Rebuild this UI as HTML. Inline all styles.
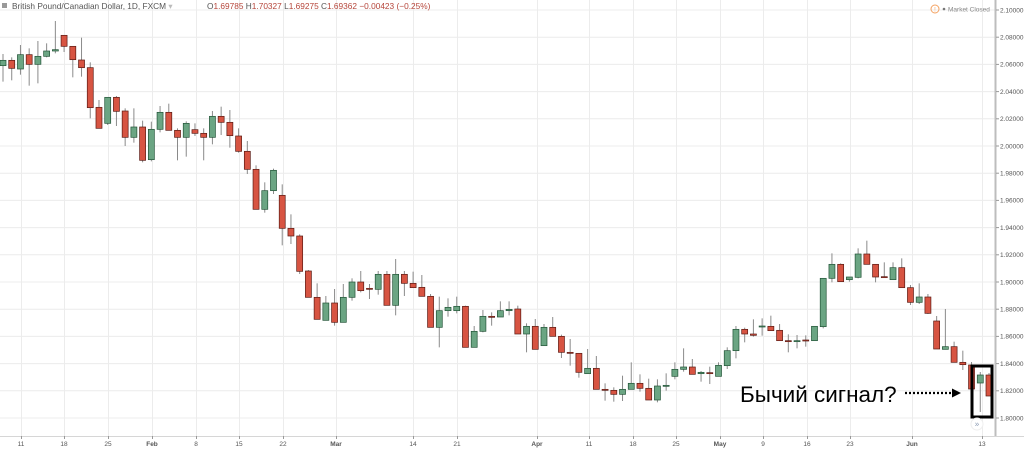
<!DOCTYPE html><html><head><meta charset="utf-8"><style>
body{margin:0;background:#fff;width:1024px;height:451px;overflow:hidden;font-family:"Liberation Sans","DejaVu Sans",sans-serif}
</style></head><body>
<svg id="s" width="1024" height="451" xmlns="http://www.w3.org/2000/svg" style="position:absolute;left:0;top:0">
<rect width="1024" height="451" fill="#fff"/>
<g id="grid" stroke="#ececec" stroke-width="1"></g>
<g id="c"></g>
<line x1="995.5" y1="0" x2="995.5" y2="437" stroke="#bdbdbd" stroke-width="2"/>
<line x1="0" y1="436.5" x2="1024" y2="436.5" stroke="#d6d6d6" stroke-width="1"/>
<g id="yl" font-size="6.5" fill="#555"></g>
<g id="xl" font-size="6.5" fill="#555" text-anchor="middle"></g>
<rect x="2" y="3" width="5" height="5" fill="#999"/>
<text x="12" y="9" font-size="8.3" fill="#555">British Pound/Canadian Dollar, 1D, FXCM <tspan fill="#bbb">▾</tspan></text>
<text x="207" y="9" font-size="8.3" fill="#555">O<tspan fill="#b5453a">1.69785</tspan>  H<tspan fill="#b5453a">1.70327</tspan>  L<tspan fill="#b5453a">1.69275</tspan>  C<tspan fill="#b5453a">1.69362</tspan>  <tspan fill="#b5453a">−0.00423 (−0.25%)</tspan></text>
<circle cx="935" cy="9" r="4" fill="none" stroke="#f4a261" stroke-width="1"/>
<text x="935" y="11.5" font-size="6" fill="#f4a261" text-anchor="middle">!</text>
<circle cx="944" cy="9" r="1.3" fill="#777"/>
<text x="948" y="11.5" font-size="6.5" fill="#888">Market Closed</text>
<text x="740" y="402" font-size="22.5" fill="#000">Бычий сигнал?</text>
<line x1="905" y1="393" x2="952" y2="393" stroke="#000" stroke-width="2.2" stroke-dasharray="2,2"/>
<polygon points="952,388.5 961,393 952,397.5" fill="#000"/>
<rect x="972" y="366" width="20" height="51" fill="none" stroke="#000" stroke-width="3"/>
<circle cx="977" cy="424" r="6" fill="#fff" stroke="#eee"/>
<text x="977" y="426.5" font-size="8" fill="#8a9bb3" text-anchor="middle">»</text>
</svg>
<script>
var NS="http://www.w3.org/2000/svg";
function el(p,t,a,txt){var e=document.createElementNS(NS,t);for(var k in a)e.setAttribute(k,a[k]);if(txt!=null)e.textContent=txt;document.getElementById(p).appendChild(e);return e;}
for(var i=0;i<=15;i++){var y=10+i*27.2;el("grid","line",{x1:0,y1:y.toFixed(1),x2:995,y2:y.toFixed(1)});
var p=(2.10-i*0.02).toFixed(5);el("yl","line",{x1:996,y1:y,x2:999,y2:y,stroke:"#999"});el("yl","text",{x:1000,y:y+2.3},p);}
var gx=[[21,"11"],[64,"18"],[108,"25"],[152,"Feb"],[196,"8"],[239,"15"],[283,"22"],[336,"Mar"],[413,"14"],[457,"21"],[537,"Apr"],[589,"11"],[633,"18"],[676,"25"],[720,"May"],[763,"9"],[807,"16"],[850,"23"],[912,"Jun"],[982,"13"]];
gx.forEach(function(g){el("grid","line",{x1:g[0]+.5,y1:0,x2:g[0]+.5,y2:436});el("xl","line",{x1:g[0]+.5,y1:436,x2:g[0]+.5,y2:439,stroke:"#999"});el("xl","text",{x:g[0],y:446,"font-weight":/[A-Z]/.test(g[1])?"bold":"normal"},g[1]);});
var A=[
"G121 137 102 185","R121 145 112 181","G104 147 75 164","R104 133 85 197","G109 133 63 190","G93 109 70 112","G89 93 3 100","R46 79 46 96","R79 119 79 172","R120 143 53 170","R143 263 127 295","R262 325 240 325","G232 310 232 315","R232 274 228 318","R273 352 265 378","G321 352 265 368","R321 421 302 427","G328 419 305 424","G277 328 258 337","R277 331 251 331","R331 352 325 421","G310 352 304 410","R329 340 310 348","R340 352 325 421","G289 352 273 373","R289 307 260 345","R307 347 270 383","R348 394 325 398","R394 448 363 462","R448 568 436 568","G512 568 487 578","G451 512 446 522","R526 625 493 676","R625 648 583 672","R648 754 643 762"];
var B=[
"R93 172 90 172","R172 238 130 238","G189 241 168 241","R189 247 147 257","G172 247 132 247","G126 172 115 182","R126 152 93 157","R145 148 132 177","G103 148 93 164","R103 196 93 196","G103 196 57 226","R103 130 93 168","R130 143 95 143","R142 169 105 169","R169 262 162 262","G212 262 170 322","G202 212 175 230","G199 212 170 220","R199 322 197 322","G274 322 258 322","G229 274 210 277","R229 232 217 257","G212 231 184 231","G208 212 184 226","R207 282 197 282","G259 282 250 337","R259 328 237 328","G262 317 252 317","R262 289 231 289","R289 337 284 354","R337 340 297 377","R340 397 340 413","G385 401 327 401","R385 448 348 448","R448 451 430 482","R451 463 442 485","G448 463 407 483","G430 448 367 448","R430 445 403 455","R445 480 416 480","G438 480 418 487","G436 439 400 452","G388 409 367 418","G381 388 325 395","R381 403 357 403","G397 401 393 425","R398 401 380 432","G376 409 367 409"];
var C=[
"G362 407 352 417","G298 362 288 385","R298 312 293 337","R312 316 268 320","G288 290 265 317","R289 302 257 302","R301 332 282 332","R332 335 313 367","G332 335 315 355","R330 332 316 350","G289 332 289 332","G145 290 145 295","G103 145 70 157","R103 155 100 155","G141 149 141 155","G72 142 55 145","R72 103 32 103","R103 141 103 157","R140 143 97 143","G113 149 97 149","R113 173 85 173","R173 217 165 225","G201 217 160 222","R201 250 192 252","R273 357 258 357","G350 358 237 358","R350 397 335 397","R397 404 362 420"];
var D=[["R",365,389,362,392],["G",375,383,372,412],["R",375,396,373,396]];
var all=[];
A.forEach(function(s){var v=s.slice(1).split(" ").map(Number);all.push([s[0],20+v[0]/3,20+v[1]/3,20+v[2]/3,20+v[3]/3]);});
B.forEach(function(s){var v=s.slice(1).split(" ").map(Number);all.push([s[0],240+v[0]/3,240+v[1]/3,240+v[2]/3,240+v[3]/3]);});
C.forEach(function(s){var v=s.slice(1).split(" ").map(Number);all.push([s[0],230+v[0]/3,230+v[1]/3,230+v[2]/3,230+v[3]/3]);});
D.forEach(function(d){all.push(d);});
var n=all.length, sp=(989-3)/(n-1);
all.forEach(function(d,i){var x=3+sp*i;var g=d[0]=="G";
el("c","line",{x1:x,y1:d[3],x2:x,y2:d[4],stroke:"#8a8a8a","stroke-width":1});
var h=Math.max(1,d[2]-d[1]);
el("c","rect",{x:x-3,y:d[1],width:6,height:h,fill:g?"#6ba583":"#d75442",stroke:g?"#225437":"#5b1a13","stroke-width":0.7});});
</script>
</body></html>
